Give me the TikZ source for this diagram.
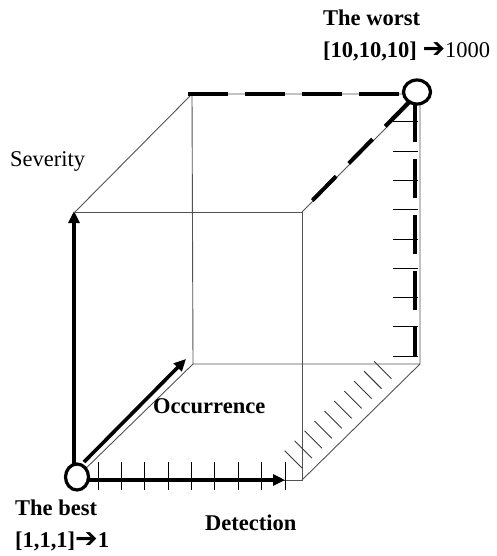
\documentclass[tikz,border=0pt]{standalone}
\usepackage{fontspec}
\setmainfont{Liberation Serif}
\newfontfamily\symfont{DejaVu Sans}
\usetikzlibrary{arrows.meta,shapes.geometric}
\begin{document}
\begin{tikzpicture}[x=1pt,y=-1pt,
  edge/.style={draw=black!68,line width=0.9pt},
  axis/.style={line width=3.6pt,-{Triangle[length=12pt,width=11pt]}},
  heavydash/.style={line width=4pt,dash pattern=on 40pt off 17pt},
  tickline/.style={draw=black,line width=1pt},
  hatchline/.style={draw=black!78,line width=0.9pt},
  corner/.style={draw,ellipse,line width=3.2pt,fill=white,inner sep=0pt},
  lbl/.style={font=\fontsize{22.5}{27}\selectfont\bfseries,inner sep=0pt,anchor=base west},
  lblr/.style={font=\fontsize{22.5}{27}\selectfont,inner sep=0pt,anchor=base west},
  arr/.style={}]
\useasboundingbox (0,0) rectangle (497,556);
% cube corners
\coordinate (FBL) at (77,477);
\coordinate (FBLa) at (77,480);
\coordinate (FBR) at (302,480);
\coordinate (FTL) at (75,212);
\coordinate (FTR) at (302,212);
\coordinate (BBL) at (193,364);
\coordinate (BBR) at (420,364);
\coordinate (BTL) at (192,94);
\coordinate (BTR) at (420,94);
% thin edges
\draw[edge] (FTL) -- (FTR) -- (FBR) -- (FBLa);
\draw[edge] (FTL) -- (BTL) -- (BTR) -- (BBR) -- (BBL) -- (BTL);
\draw[edge] (FBR) -- (BBR);
\draw[edge] (FBL) -- (BBL);
\draw[edge] (FTR) -- (BTR);
% hatching on bottom-right diagonal
\foreach \k in {0,...,9}
  \draw[hatchline] ({302+9.93*\k},{468-9.93*\k}) -- ({284.7+9.93*\k},{450.7-9.93*\k});
% ticks on detection axis
\foreach \k in {0,...,8}
  \draw[tickline] ({98+23.375*\k},462) -- ({98+23.375*\k},490);
% ticks on back right edge
\foreach \k in {0,...,8}
  \draw[tickline] (393,{122+29.25*\k}) -- (418,{122+29.25*\k});
% heavy dashed edges of the worst corner
\coordinate (topdashA) at (188,94);
\coordinate (topdashB) at (406,94);
\draw[heavydash] (topdashA) -- (topdashB);
\coordinate (diagA) at (409,102);
\coordinate (diagB) at (304,209);
\draw[line width=4pt,dash pattern=on 34pt off 18pt] (diagA) -- (diagB);
\coordinate (rightA) at (415,103);
\coordinate (rightB) at (415,357);
\draw[line width=4pt,dash pattern=on 39pt off 17pt] (rightA) -- (rightB);
% corners
\node[corner,minimum width=23pt,minimum height=26pt] (best) at (77,477) {};
\node[corner,minimum width=27pt,minimum height=24pt] (worst) at (417,92) {};
% axes
\coordinate (sevstart) at (74,464);
\coordinate (sevtip) at (74,211);
\draw[axis] (sevstart) -- (sevtip);
\coordinate (occstart) at (84,462);
\coordinate (occtip) at (186,359);
\draw[axis] (occstart) -- (occtip);
\coordinate (detstart) at (89,480);
\coordinate (dettip) at (285,480);
\draw[axis] (detstart) -- (dettip);
% labels
\node[lbl] (worstlbl) at (323,26) {The worst};
\node[lbl] (worstval) at (323,58) {[10,10,10] {\symfont\fontsize{27}{30}\selectfont ➔}\mdseries1000};
\node[lblr] (sevlbl) at (10,167) {Severity};
\node[lbl] (occlbl) at (153,413) {Occurrence};
\node[lbl] (bestlbl) at (15,515) {The best};
\node[lbl] (bestval) at (15,547) {[1,1,1]{\symfont\fontsize{27}{30}\selectfont ➔}1};
\node[lbl] (detlbl) at (205,530) {Detection};
\end{tikzpicture}
\end{document}
